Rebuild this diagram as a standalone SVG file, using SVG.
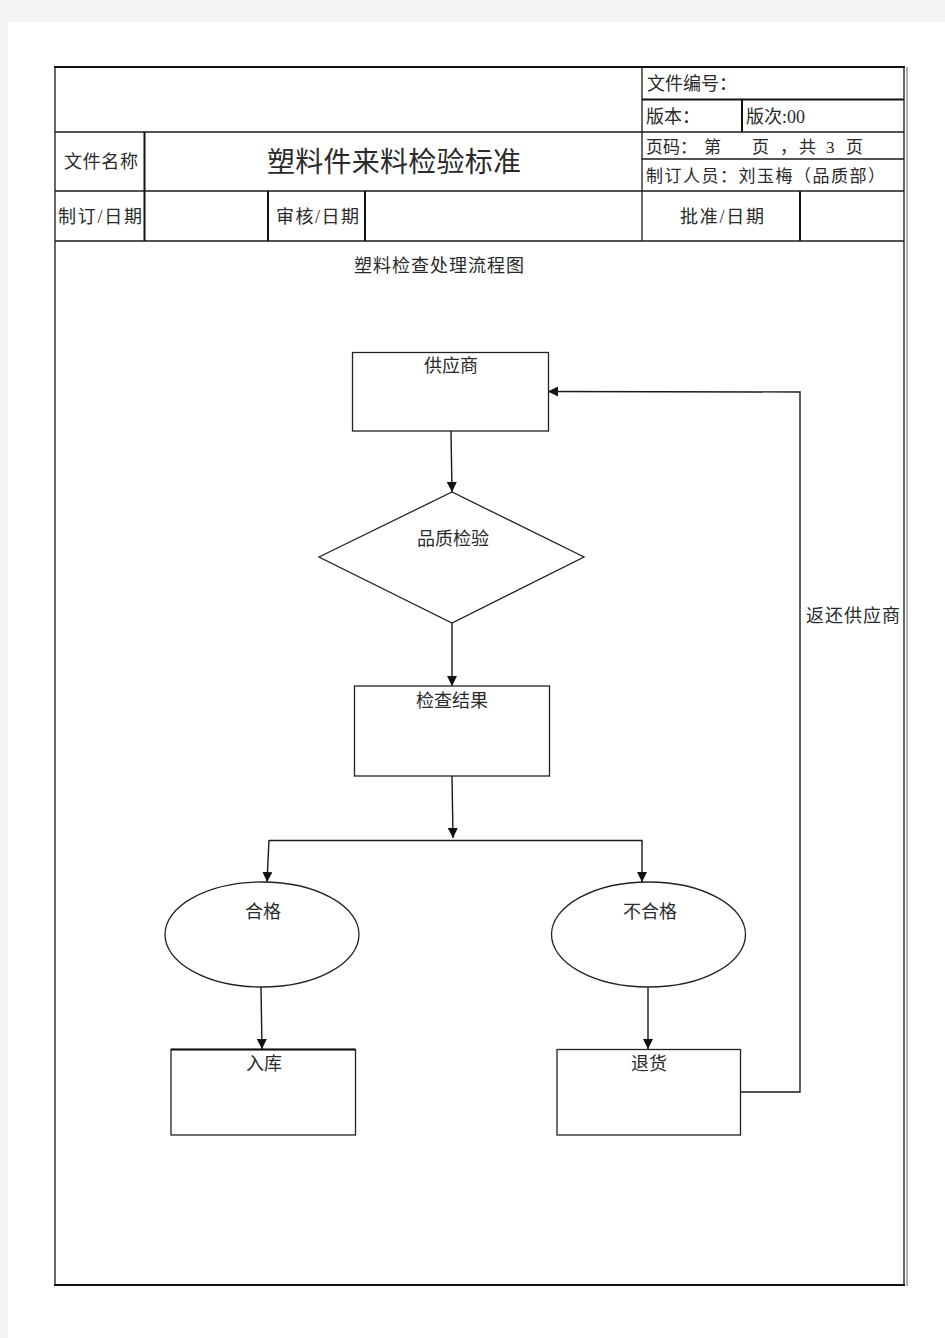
<svg xmlns="http://www.w3.org/2000/svg" width="945" height="1338" viewBox="0 0 945 1338">
<defs>
<style>
.t{font-family:"Liberation Serif","Noto Sans CJK SC",serif;fill:#2a2a2a;}
.g{stroke:#1a1a1a;fill:none;stroke-width:1.3;}
.gt{stroke:#111;fill:none;stroke-width:2;}
.n{stroke:#222;fill:#fff;stroke-width:1.3;}
.c{stroke:#1a1a1a;fill:none;stroke-width:1.4;}
</style>
<marker id="ah" viewBox="0 0 10 10" refX="10" refY="5" markerWidth="10" markerHeight="10" markerUnits="userSpaceOnUse" orient="auto">
<path d="M0,0 L10,5 L0,10 z" fill="#111"/>
</marker>
</defs>
<rect x="0" y="0" width="945" height="1338" fill="#f3f3f3"/>
<rect x="8" y="22" width="937" height="1316" fill="#fff"/>

<g id="header-table">
<rect x="55" y="67" width="849" height="1218" class="g"/>
<line x1="54" y1="67" x2="905" y2="67" class="gt"/>
<line x1="54" y1="1285" x2="905" y2="1285" class="gt"/>
<line x1="907" y1="67" x2="907" y2="1286" stroke="#999" stroke-width="1.5"/>
<line x1="55" y1="132" x2="904" y2="132" class="g"/>
<line x1="55" y1="191" x2="904" y2="191" class="g"/>
<line x1="55" y1="241" x2="904" y2="241" class="g"/>
<line x1="642" y1="67" x2="642" y2="241" class="g"/>
<line x1="642" y1="99.5" x2="904" y2="99.5" class="gt"/>
<line x1="742" y1="99" x2="742" y2="132" class="gt"/>
<line x1="642" y1="159" x2="904" y2="159" class="g"/>
<line x1="144.5" y1="132" x2="144.5" y2="241" class="gt"/>
<line x1="268" y1="191" x2="268" y2="241" class="gt"/>
<line x1="365" y1="191" x2="365" y2="241" class="gt"/>
<line x1="800" y1="191" x2="800" y2="241" class="gt"/>
<text class="t" x="64" y="168" font-size="18" textLength="74" lengthAdjust="spacing">文件名称</text>
<text class="t" x="267" y="172" font-size="28" textLength="254" lengthAdjust="spacing">塑料件来料检验标准</text>
<text class="t" x="58" y="223" font-size="18" textLength="84" lengthAdjust="spacing">制订/日期</text>
<text class="t" x="276" y="223" font-size="18" textLength="83" lengthAdjust="spacing">审核/日期</text>
<text class="t" x="680" y="223" font-size="18" textLength="84" lengthAdjust="spacing">批准/日期</text>
<text class="t" x="647" y="90" font-size="18">文件编号：</text>
<text class="t" x="646" y="123" font-size="18">版本：</text>
<text class="t" x="746" y="123" font-size="18">版次:00</text>
<text class="t" y="153" font-size="17"><tspan x="646">页码：</tspan><tspan x="704">第</tspan><tspan x="752">页</tspan><tspan x="780">，</tspan><tspan x="799">共</tspan><tspan x="826">3</tspan><tspan x="846">页</tspan></text>
<text class="t" x="646" y="182" font-size="17" textLength="239" lengthAdjust="spacing">制订人员：刘玉梅（品质部）</text>
<text class="t" x="354" y="272" font-size="18" textLength="170" lengthAdjust="spacing">塑料检查处理流程图</text>
</g>

<g id="connectors">
<line x1="451" y1="431" x2="452" y2="492" class="c" marker-end="url(#ah)"/>
<line x1="452" y1="623" x2="452" y2="686" class="c" marker-end="url(#ah)"/>
<line x1="452" y1="776" x2="453" y2="838" class="c" marker-end="url(#ah)"/>
<polyline points="269,840.5 642,840.5 642,882" class="c" marker-end="url(#ah)"/>
<line x1="269" y1="840" x2="267" y2="882" class="c" marker-end="url(#ah)"/>
<line x1="261" y1="987" x2="262" y2="1049" class="c" marker-end="url(#ah)"/>
<line x1="648" y1="987" x2="648" y2="1049" class="c" marker-end="url(#ah)"/>
<polyline points="740,1092 800,1092 800,392 548,391.5" class="c" stroke-width="1.6" marker-end="url(#ah)"/>
<text class="t" x="806" y="622" font-size="18" textLength="94" lengthAdjust="spacing">返还供应商</text>
</g>

<g id="node-supplier">
<rect x="352.5" y="352.5" width="196" height="78.5" class="n"/>
<text class="t" x="451" y="372" font-size="18" text-anchor="middle">供应商</text>
</g>
<g id="node-inspection">
<polygon points="319,557 452,492 584,557 452,623" class="n"/>
<text class="t" x="453" y="545" font-size="18" text-anchor="middle">品质检验</text>
</g>
<g id="node-result">
<rect x="354.5" y="686" width="195" height="90" class="n"/>
<text class="t" x="452" y="707" font-size="18" text-anchor="middle">检查结果</text>
</g>
<g id="node-pass">
<ellipse cx="262" cy="934.5" rx="97" ry="52.5" class="n"/>
<text class="t" x="263" y="918" font-size="18" text-anchor="middle">合格</text>
</g>
<g id="node-fail">
<ellipse cx="648.5" cy="934.5" rx="97" ry="52.5" class="n"/>
<text class="t" x="650" y="918" font-size="18" text-anchor="middle">不合格</text>
</g>
<g id="node-stock">
<rect x="171" y="1049.5" width="184.5" height="85.5" class="n"/>
<line x1="171" y1="1049.5" x2="355.5" y2="1049.5" class="gt"/>
<text class="t" x="264" y="1070" font-size="18" text-anchor="middle">入库</text>
</g>
<g id="node-return">
<rect x="557" y="1049.5" width="183.5" height="85.5" class="n"/>
<text class="t" x="649" y="1070" font-size="18" text-anchor="middle">退货</text>
</g>
</svg>
